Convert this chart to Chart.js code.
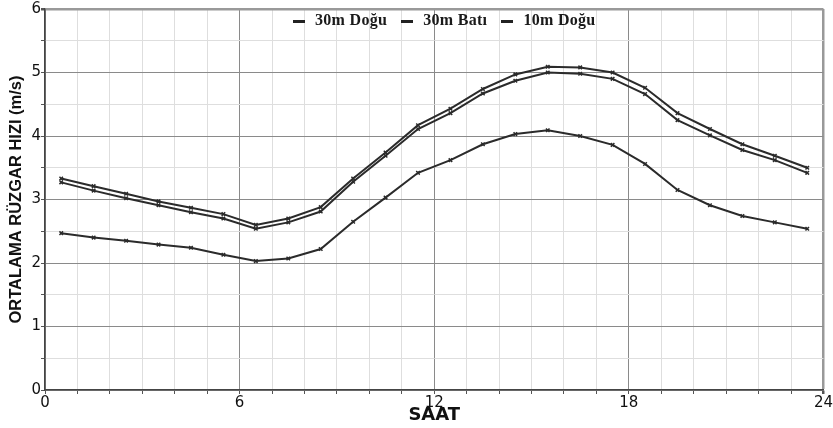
<!DOCTYPE html>
<html>
<head>
<meta charset="utf-8">
<script src="https://cdn.jsdelivr.net/npm/chart.js@4/dist/chart.umd.min.js"></script>
<style>
  html, body { margin: 0; padding: 0; background: #fff; }
  #wrap { position: relative; width: 833px; height: 428px; }
  #legend { position: absolute; top: 11px; left: 293px; display: flex; align-items: center;
            font-family: "Liberation Serif", "Times New Roman", serif; font-size: 16px; font-weight: bold; letter-spacing: 0.3px; color: #1a1a1a; white-space: nowrap; }
  #legend .item { display: flex; align-items: center; margin-right: 14px; }
  #legend .dash { display: inline-block; width: 12px; height: 3px; background: #222; margin-right: 10px; margin-top: 2px; }
</style>
</head>
<body>
<div id="wrap">
  <canvas id="c" width="833" height="428"></canvas>
  <div id="legend"></div>
</div>
<script>
// ---- data ----
const hours = [0.5,1.5,2.5,3.5,4.5,5.5,6.5,7.5,8.5,9.5,10.5,11.5,12.5,13.5,14.5,15.5,16.5,17.5,18.5,19.5,20.5,21.5,22.5,23.5];
const seriesNames = ["30m Doğu", "30m Batı", "10m Doğu"];
const dogu30 = [3.33,3.21,3.09,2.97,2.87,2.77,2.60,2.70,2.88,3.33,3.74,4.17,4.43,4.74,4.97,5.09,5.08,5.00,4.76,4.36,4.11,3.87,3.69,3.50];
const bati30 = [3.27,3.14,3.02,2.91,2.80,2.70,2.54,2.64,2.81,3.28,3.69,4.11,4.36,4.67,4.87,5.00,4.98,4.90,4.66,4.25,4.01,3.78,3.62,3.42];
const dogu10 = [2.47,2.40,2.35,2.29,2.24,2.13,2.03,2.07,2.22,2.65,3.03,3.42,3.62,3.87,4.03,4.09,4.00,3.86,3.56,3.15,2.91,2.74,2.64,2.54];
const xTickLabels = ["0","6","12","18","24"];
const yTickLabels = ["0","1","2","3","4","5","6"];
const xTitle = "SAAT";
const yTitle = "ORTALAMA RÜZGAR HIZI (m/s)";

// ---- legend (HTML) ----
const lg = document.getElementById('legend');
seriesNames.forEach(n => {
  const it = document.createElement('span'); it.className = 'item';
  const d = document.createElement('span'); d.className = 'dash';
  const t = document.createElement('span'); t.textContent = n;
  it.appendChild(d); it.appendChild(t); lg.appendChild(it);
});

const lineColor = '#2b2b2b';
function ds(label, vals) {
  return {
    label, data: hours.map((h, i) => ({x: h, y: vals[i]})),
    borderColor: lineColor, backgroundColor: lineColor, borderWidth: 2,
    pointStyle: 'crossRot', pointRadius: 2.5, pointBorderWidth: 1.5, tension: 0
  };
}

new Chart(document.getElementById('c'), {
  type: 'line',
  data: { datasets: [ds(seriesNames[0], dogu30), ds(seriesNames[1], bati30), ds(seriesNames[2], dogu10)] },
  options: {
    responsive: false, animation: false,
    layout: { padding: { top: 9, right: 8, left: 0, bottom: 0 } },
    plugins: { legend: { display: false }, tooltip: { enabled: false } },
    scales: {
      x: {
        type: 'linear', min: 0, max: 24,
        afterFit: s => { s.height = 38; },
        ticks: {
          stepSize: 1, autoSkip: false, maxRotation: 0, padding: 0,
          color: '#111', font: { family: 'DejaVu Sans', size: 15 },
          callback: v => (v % 6 === 0 ? xTickLabels[v / 6] : '')
        },
        grid: {
          color: c => (c.tick && c.tick.value % 6 === 0 ? (c.tick.value === 24 ? '#999' : '#8a8a8a') : '#dedede'),
          lineWidth: c => (c.tick && c.tick.value === 24 ? 2.5 : 1),
          tickLength: 4, tickColor: '#555'
        },
        border: { color: '#444', width: 1.5 },
        title: { display: true, text: xTitle, color: '#111', font: { family: 'DejaVu Sans', size: 18, weight: 'bold' }, padding: { top: 0, bottom: 2 } }
      },
      y: {
        min: 0, max: 6,
        afterFit: s => { s.width = 45; },
        ticks: {
          stepSize: 0.5, autoSkip: false, padding: 0,
          color: '#111', font: { family: 'DejaVu Sans', size: 15 },
          callback: v => (Number.isInteger(v) ? yTickLabels[v] : '')
        },
        grid: {
          color: c => (c.tick && Number.isInteger(c.tick.value) ? (c.tick.value === 6 ? '#999' : '#8a8a8a') : '#dedede'),
          lineWidth: c => (c.tick && c.tick.value === 6 ? 2.5 : 1),
          tickLength: 4, tickColor: '#555'
        },
        border: { color: '#444', width: 1.5 },
        title: { display: true, text: yTitle, color: '#111', font: { family: 'Liberation Sans', size: 16.5, weight: 'bold' }, padding: { top: 7, bottom: 0 } }
      }
    }
  }
});
</script>
</body>
</html>
